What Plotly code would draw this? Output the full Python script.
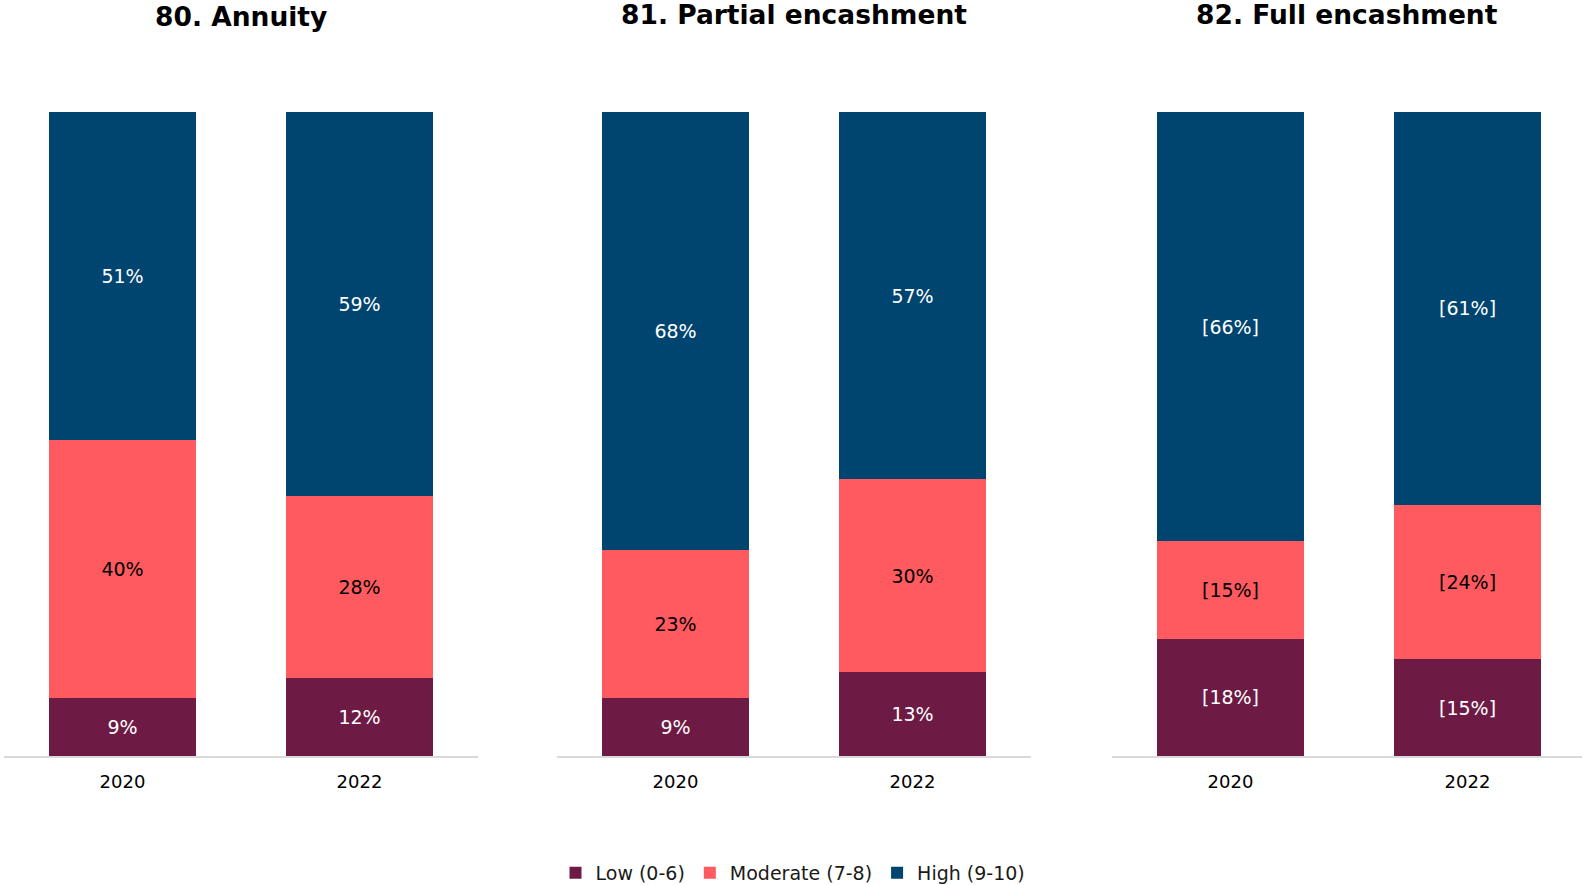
import plotly.graph_objects as go

# Survey waves shown on each panel's x axis
years = ["2020", "2022"]

# Panel titles
panel_titles = ["80. Annuity", "81. Partial encashment", "82. Full encashment"]

# Share of respondents (%) per rating band, per panel, for 2020 and 2022
low_vals = [[9, 12], [9, 13], [18, 15]]
moderate_vals = [[40, 28], [23, 30], [15, 24]]
high_vals = [[51, 59], [68, 57], [66, 61]]

# Panels whose figures rest on a small base are shown in brackets
bracketed = [False, False, True]

series_names = ["Low (0-6)", "Moderate (7-8)", "High (9-10)"]
series_colors = ["#6D1B45", "#FF5A5F", "#004470"]
label_colors = ["white", "black", "white"]

FONT = "Verdana, DejaVu Sans, sans-serif"

fig = go.Figure()

domains = [[0.0, 474 / 1578], [553 / 1578, 1027 / 1578], [1108 / 1578, 1.0]]
# last panel is clipped by the page edge, so its category range is trimmed
x_ranges = [[-0.5, 1.5], [-0.5, 1.5], [-0.5, 1.483]]

for p in range(3):
    xa = "x" if p == 0 else f"x{p + 1}"
    ya = "y" if p == 0 else f"y{p + 1}"
    for s, vals in enumerate([low_vals, moderate_vals, high_vals]):
        v = vals[p]
        if bracketed[p]:
            txt = [f"[{n}%]" for n in v]
        else:
            txt = [f"{n}%" for n in v]
        fig.add_trace(go.Bar(
            x=years, y=v, name=series_names[s],
            marker=dict(color=series_colors[s], line=dict(width=0)),
            text=txt, textposition="inside", insidetextanchor="middle",
            textangle=0, constraintext="none",
            textfont=dict(family=FONT, size=19, color=label_colors[s]),
            xaxis=xa, yaxis=ya, showlegend=(p == 0),
            legendgroup=series_names[s],
            hovertemplate="%{x}: %{text}<extra>" + series_names[s] + "</extra>",
        ))

layout_axes = {}
for p in range(3):
    sx = "xaxis" if p == 0 else f"xaxis{p + 1}"
    sy = "yaxis" if p == 0 else f"yaxis{p + 1}"
    ya = "y" if p == 0 else f"y{p + 1}"
    layout_axes[sx] = dict(
        domain=domains[p], anchor=ya, range=x_ranges[p],
        showgrid=False, zeroline=False,
        showline=True, linecolor="#D9D9D9", linewidth=2,
        ticks="", ticklabelstandoff=8,
        tickfont=dict(family=FONT, size=18, color="black"),
        fixedrange=True,
    )
    layout_axes[sy] = dict(
        domain=[0, 1], range=[0, 100], visible=False, fixedrange=True,
    )

annotations = []
title_y = [17, 15, 15]
for p in range(3):
    d = domains[p]
    annotations.append(dict(
        text=f"<b>{panel_titles[p]}</b>", x=(d[0] + d[1]) / 2, xref="paper",
        y=1 + (112 - title_y[p]) / 644, yref="paper",
        xanchor="center", yanchor="middle", showarrow=False,
        font=dict(family=FONT, size=26.5, color="black"),
    ))

fig.update_layout(
    barmode="stack", barnorm="percent", bargap=0.376,
    width=1582, height=885,
    margin=dict(l=4, r=0, t=112, b=129, autoexpand=False),
    paper_bgcolor="white", plot_bgcolor="white",
    font=dict(family=FONT, size=18, color="black"),
    legend=dict(
        orientation="h", x=0.5, xanchor="center",
        yref="container", y=1 - 873 / 885, yanchor="middle",
        font=dict(family=FONT, size=19, color="#1a1a1a"),
        itemwidth=30, traceorder="normal",
    ),
    annotations=annotations,
    **layout_axes,
)

fig.write_html("out.html")
